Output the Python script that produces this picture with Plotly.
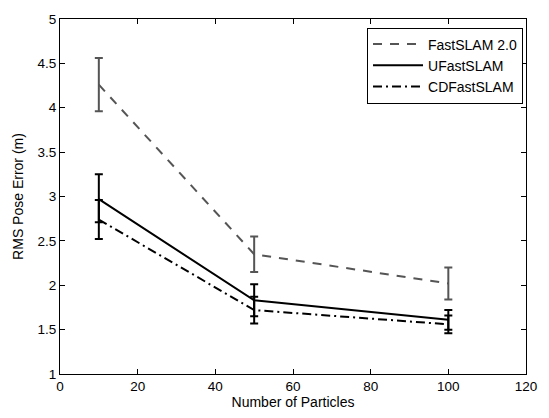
import plotly.graph_objects as go

particles = [10, 50, 100]

fast2_mean = [4.26, 2.35, 2.02]
fast2_err = [0.30, 0.20, 0.18]

ufast_mean = [2.97, 1.83, 1.61]
ufast_err_plus = [0.28, 0.18, 0.11]
ufast_err_minus = [0.26, 0.18, 0.11]

cd_mean = [2.74, 1.72, 1.56]
cd_err = [0.22, 0.15, 0.10]

x_ticks = [0, 20, 40, 60, 80, 100, 120]
y_ticks = [1, 1.5, 2, 2.5, 3, 3.5, 4, 4.5, 5]

gray = "#555555"
font = "Liberation Sans, Arial, sans-serif"

fig = go.Figure()
fig.add_trace(go.Scatter(
    x=particles, y=fast2_mean, mode="lines", name="FastSLAM 2.0",
    line=dict(color=gray, width=2, dash="9px,8px"),
    error_y=dict(type="data", array=fast2_err, color=gray, thickness=2, width=4),
))
fig.add_trace(go.Scatter(
    x=particles, y=ufast_mean, mode="lines", name="UFastSLAM",
    line=dict(color="black", width=2),
    error_y=dict(type="data", array=ufast_err_plus, arrayminus=ufast_err_minus,
                 symmetric=False, color="black", thickness=2, width=4),
))
fig.add_trace(go.Scatter(
    x=particles, y=cd_mean, mode="lines", name="CDFastSLAM",
    line=dict(color="black", width=2, dash="9px,4px,2px,4px"),
    error_y=dict(type="data", array=cd_err, color="black", thickness=2, width=4),
))

axis_common = dict(
    showline=True, linecolor="black", linewidth=1, mirror="ticks",
    ticks="inside", ticklen=5, tickcolor="black", tickwidth=1,
    showgrid=False, zeroline=False,
    tickfont=dict(family=font, size=13.5, color="black"),
)

fig.update_layout(
    width=549, height=418,
    margin=dict(l=60, r=19, t=13, b=37),
    paper_bgcolor="white", plot_bgcolor="white",
    font=dict(family=font, size=14, color="black"),
    xaxis=dict(range=[0, 120], tickvals=x_ticks, ticktext=[str(v) for v in x_ticks],
               title=dict(text="Number of Particles", font=dict(size=14), standoff=2),
               **axis_common),
    yaxis=dict(range=[1, 5], tickvals=y_ticks, ticktext=[f"{v:g}" for v in y_ticks],
               title=dict(text="RMS Pose Error (m)", font=dict(size=14), standoff=10),
               **axis_common),
    legend=dict(x=0.9936, y=0.976, xanchor="right", yanchor="top",
                bgcolor="white", bordercolor="black", borderwidth=1,
                font=dict(size=14), tracegroupgap=0, itemwidth=50),
    showlegend=True,
)

fig.write_html("out.html",
               config={"displayModeBar": False},
               post_script="document.body.style.margin='0';document.body.style.overflow='hidden';")
